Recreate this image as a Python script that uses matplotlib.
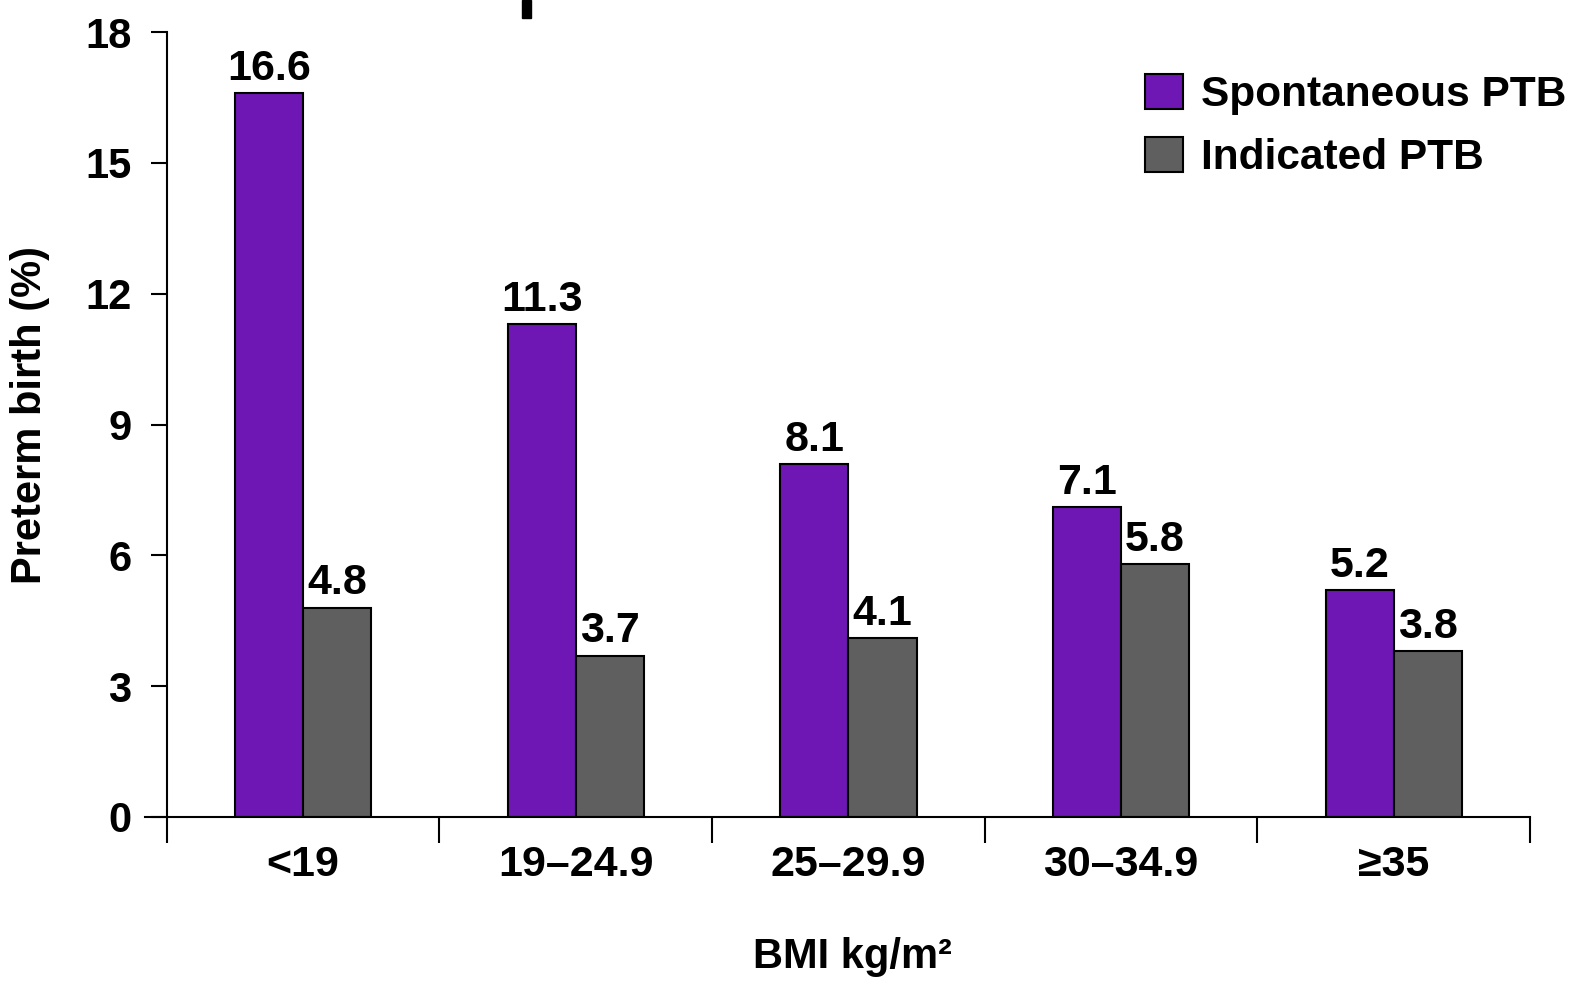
import numpy as np
import matplotlib.pyplot as plt
from matplotlib.patches import Rectangle

plt.rcParams['font.family'] = ['Liberation Sans', 'DejaVu Sans']
plt.rcParams['font.weight'] = 'bold'

# data
categories = ["<19", "19\u201324.9", "25\u201329.9", "30\u201334.9", "\u226535"]
spontaneous = [16.6, 11.3, 8.1, 7.1, 5.2]
indicated = [4.8, 3.7, 4.1, 5.8, 3.8]
y_ticks = [0, 3, 6, 9, 12, 15, 18]

purple = "#6E17B5"
grey = "#5F5F5F"

fig = plt.figure(figsize=(15.8, 9.81), dpi=100)
ax = fig.add_axes([145 / 1580, 1 - 817 / 981, (1530 - 145) / 1580, (817 - 32) / 981])

x = np.arange(len(categories))
w = 0.25
b1 = ax.bar(x - w / 2, spontaneous, w, color=purple, edgecolor="black", linewidth=1.5,
            label="Spontaneous PTB")
b2 = ax.bar(x + w / 2, indicated, w, color=grey, edgecolor="black", linewidth=1.5,
            label="Indicated PTB")

for bars, vals in [(b1, spontaneous), (b2, indicated)]:
    for rect, v in zip(bars, vals):
        ax.annotate(f"{v:.1f}", (rect.get_x() + rect.get_width() / 2, v),
                    xytext=(0, 3), textcoords="offset points",
                    ha="center", va="bottom", fontsize=31, fontweight="bold")

ax.set_xlim(-0.58, len(categories) - 0.5)
ax.set_ylim(0, 18)
ax.spines["top"].set_visible(False)
ax.spines["right"].set_visible(False)
ax.spines["left"].set_position(("data", -0.5))
for s in ["left", "bottom"]:
    ax.spines[s].set_linewidth(1.5)

ax.set_yticks(y_ticks)
ax.tick_params(axis="y", direction="out", length=11.5, width=1.5, pad=14, labelsize=30)

# group boundaries as major ticks, category names as minor labels
ax.set_xticks(np.arange(len(categories) + 1) - 0.5)
ax.set_xticklabels([])
ax.set_xticks(x, minor=True)
ax.set_xticklabels(categories, minor=True)
ax.tick_params(axis="x", which="major", direction="out", length=19, width=1.5)
ax.tick_params(axis="x", which="minor", length=0, pad=20, labelsize=31)

fig.text(30 / 1580, 1 - 415 / 981, "Preterm birth (%)", rotation=90,
         ha="center", va="center", fontsize=30, fontweight="bold")
fig.text(852 / 1580, 1 - 968 / 981, "BMI kg/m\u00b2", ha="center", va="baseline",
         fontsize=30, fontweight="bold")

# residue of a cropped title at the top edge
fig.patches.append(Rectangle((522 / 1580, 1 - 18 / 981), 9 / 1580, 18 / 981,
                             transform=fig.transFigure, color="black"))

ax.legend(loc="upper left", bbox_to_anchor=(1145 / 1580, 1 - 74 / 981),
          bbox_transform=fig.transFigure, frameon=False, fontsize=30.5,
          handlelength=0.9, handleheight=0.9, handletextpad=0.43,
          labelspacing=0.52, borderpad=0, borderaxespad=0)

fig.savefig("out.png", dpi=100)
